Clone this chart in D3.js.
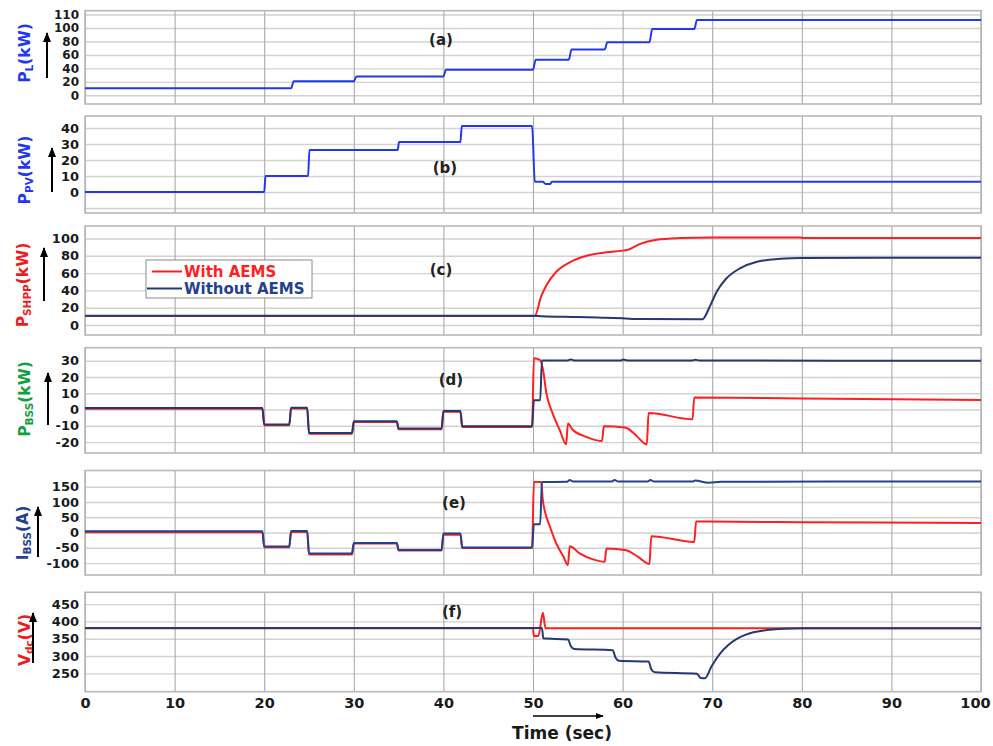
<!DOCTYPE html>
<html><head><meta charset="utf-8">
<script src="https://cdn.jsdelivr.net/npm/d3@7"></script>
<style>
body{margin:0;background:#fff}
svg text{font-family:"DejaVu Sans",Verdana,sans-serif;font-weight:bold}
</style>
</head><body>
<svg id="chart" width="993" height="746"></svg>
<script>
// ---------------- DATA ----------------
const timeTicks = [0,10,20,30,40,50,60,70,80,90,100];
const timeTickLabels = ["0","10","20","30","40","50","60","70","80","90","100"];

// (a) load power, kW
const pLoad = [[0,10.4],[23,10.4],[23.3,21],[30,21],[30.3,28],[40,28],[40.3,38],[50,38],[50.3,53],[54,53],[54.3,68],[58,68],[58.3,79],[63,79],[63.3,98.5],[68,98.5],[68.3,112],[100,112]];
const ticksA = [0,20,40,60,80,100,120];
const labelsA = ["0","20","40","60","80","100","110"];

// (b) PV power, kW
const pPV = [[0,0],[20,0],[20.15,10],[24.9,10],[25.05,26.3],[34.9,26.3],[35.05,31.3],[41.9,31.3],[42.05,41.3],[49.9,41.3],[50.2,6.4],[51.1,6.4],[51.4,5],[51.9,5],[52.1,6.4],[100,6.4]];
const ticksB = [-10,0,10,20,30,40];
const labelsB = ["","0","10","20","30","40"];

// (c) SHPP power, kW
const shppWith = [[0,10.5],[50.2,10.5],[50.9,32.7],[51.5,46],[52.6,61.6],[54.1,72.5],[56,80],[58.2,84],[60,86],[60.6,87],[61.9,93.6],[63.8,98.6],[66.4,100.5],[70,101.3],[79.8,101.3],[80.2,100.5],[100,100.5]];
const shppWithout = [[0,10.7],[50,10.7],[51,10.2],[55,9.2],[57.7,8.4],[60,7.7],[62,6.8],[68.9,6.6],[69.8,23],[70.5,38.5],[71.6,54],[73.1,65.5],[75,73.2],[77.6,76.6],[80,77.5],[100,77.8]];
const ticksC = [0,20,40,60,80,100];
const labelsC = ["0","20","40","60","80","100"];

// (d) BSS power, kW
const bssWith = [[0,0.5],[19.8,0.5],[20,-9.6],[22.8,-9.6],[23,0.7],[24.8,0.7],[25,-14.8],[29.8,-14.8],[30,-7.6],[34.8,-7.6],[35,-12.1],[39.8,-12.1],[40,-1.3],[41.9,-1.3],[42.1,-10.7],[49.9,-10.7],[50.1,31.5],[50.8,30.4],[51.1,25],[51.5,9.9],[52.2,-2.5],[53,-12.8],[53.7,-21.4],[53.9,-8.6],[54.4,-12.3],[56,-16.9],[57.7,-19.4],[57.9,-10.3],[60.2,-11.1],[60.5,-11.5],[61.5,-15.9],[62.7,-21.4],[62.9,-2.1],[67.8,-6],[68,7.4],[80,6.8],[100,5.9]];
const bssWithout = [[0,0.9],[19.8,0.9],[20,-9.2],[22.8,-9.2],[23,1.1],[24.8,1.1],[25,-14.4],[29.8,-14.4],[30,-7.2],[34.8,-7.2],[35,-11.7],[39.8,-11.7],[40,-0.9],[41.9,-0.9],[42.1,-10.3],[49.9,-10.3],[50.1,5.7],[50.8,5.7],[51,30.2],[53.9,30.2],[54.2,30.8],[54.6,30.2],[59.8,30.2],[60.1,30.7],[60.5,30.2],[67.8,30.2],[68.1,30.6],[68.6,30.1],[100,30]];
const ticksD = [-20,-10,0,10,20,30];
const labelsD = ["-20","-10","0","10","20","30"];

// (e) BSS current, A
const iBssWith = [[0,1],[19.8,1],[20,-48],[22.8,-48],[23,2],[24.8,2],[25,-72],[29.8,-72],[30,-36],[34.8,-36],[35,-59],[39.8,-59],[40,-7],[41.9,-7],[42.1,-51],[49.9,-51],[50.1,165],[50.9,165],[51.1,105],[51.3,72.6],[51.9,18],[52.6,-36],[53.4,-79],[53.9,-106],[54.1,-45],[55.2,-68],[56.7,-88],[58,-96],[58.2,-52],[60.4,-58],[61.7,-79],[63,-103],[63.2,-12],[68,-31],[68.2,36],[80,34],[100,31]];
const iBssWithout = [[0,4],[19.8,4],[20,-46],[22.8,-46],[23,5],[24.8,5],[25,-69],[29.8,-69],[30,-34],[34.8,-34],[35,-57],[39.8,-57],[40,-3],[41.9,-3],[42.1,-49],[49.9,-49],[50.1,27],[50.8,27],[51,165],[53.8,166],[54.1,172],[54.5,167],[58.8,167],[59.1,172],[59.5,167],[62.8,167],[63.1,172],[63.5,167],[67.8,167],[68.1,170],[69.6,163],[71,166],[100,167]];
const ticksE = [-100,-50,0,50,100,150];
const labelsE = ["-100","-50","0","50","100","150"];

// (f) DC-link voltage, V
const vdcWith = [[0,380],[50,380],[50.1,358],[50.6,358],[51.1,425],[51.4,380],[100,380]];
const vdcWithout = [[0,381],[51,381],[51.15,351],[53.9,348],[54.2,330],[54.6,320],[58.9,317],[59.2,296],[59.6,286.5],[62.9,284],[63.2,262],[63.6,253],[68.3,249],[68.7,236.6],[69.2,236],[69.9,269],[70.9,308],[71.8,332],[72.7,349],[73.7,361],[74.6,368.5],[76.1,375],[77.4,378],[80,380],[100,380]];
const ticksF = [250,300,350,400,450];
const labelsF = ["250","300","350","400","450"];

const legendLabels = ["With AEMS","Without AEMS"];

// ---------------- STYLE / LAYOUT ----------------
const BLUE = "#2238ee", RED = "#ff1f1f", NAVY = "#263872", GREEN = "#12a03c", LNAVY = "#25408f", LRED = "#ee1c1c";
const X0 = 85, X1 = 981;

const panels = [
  {top:10.7, bottom:104, domain:[-12.9,125.7], ticks:ticksA, labels:labelsA, fs:12,
   series:[{d:pLoad,c:BLUE}], letter:"(a)", lx:441, ly:40,
   ylab:{parts:[["P",""],["L","sub"],["(kW)",""]], c:BLUE, x:25, y:53}, arrow:{x:47,y1:78,y2:33}},
  {top:116, bottom:213, domain:[-13.1,47.5], ticks:ticksB, labels:labelsB, fs:13,
   series:[{d:pPV,c:BLUE}], letter:"(b)", lx:445, ly:168,
   ylab:{parts:[["P",""],["PV","sub"],["(kW)",""]], c:BLUE, x:25, y:170}, arrow:{x:52,y1:192,y2:148}},
  {top:226, bottom:335, domain:[-11.6,114.5], ticks:ticksC, labels:labelsC, fs:13,
   series:[{d:shppWith,c:RED},{d:shppWithout,c:NAVY}], letter:"(c)", lx:441, ly:270,
   ylab:{parts:[["P",""],["SHPP","sub"],["(kW)",""]], c:LRED, x:23, y:285}, arrow:{x:44,y1:301,y2:248}},
  {top:347.7, bottom:453, domain:[-26.7,38], ticks:ticksD, labels:labelsD, fs:13,
   series:[{d:bssWith,c:RED},{d:bssWithout,c:NAVY}], letter:"(d)", lx:451, ly:380,
   ylab:{parts:[["P",""],["BSS","sub"],["(kW)",""]], c:GREEN, x:25, y:399}, arrow:{x:48,y1:425,y2:373}},
  {top:470.5, bottom:575, domain:[-139,203], ticks:ticksE, labels:labelsE, fs:13,
   series:[{d:iBssWith,c:RED},{d:iBssWithout,c:LNAVY}], letter:"(e)", lx:454, ly:503,
   ylab:{parts:[["I",""],["BSS","sub"],["(A)",""]], c:LNAVY, x:23, y:533}, arrow:{x:38,y1:557,y2:507}},
  {top:592.3, bottom:691.7, domain:[197,484], ticks:ticksF, labels:labelsF, fs:13,
   series:[{d:vdcWith,c:RED},{d:vdcWithout,c:NAVY}], letter:"(f)", lx:452, ly:612,
   ylab:{parts:[["V",""],["dc","sub"],["(V)",""]], c:LRED, x:25, y:640}, arrow:{x:33,y1:663,y2:613}}
];

const svg = d3.select("#chart");
const defs = svg.append("defs");
defs.append("marker").attr("id","ah").attr("viewBox","0 0 10 10").attr("refX",9).attr("refY",5)
  .attr("markerWidth",5).attr("markerHeight",5).attr("orient","auto")
  .append("path").attr("d","M0,1 L10,5 L0,9 Z").attr("fill","#000");

const x = d3.scaleLinear().domain([0,100]).range([X0,X1]);

panels.forEach((p,pi) => {
  const y = d3.scaleLinear().domain(p.domain).range([p.bottom,p.top]);
  const g = svg.append("g");
  const h = p.bottom - p.top;

  // horizontal grid
  g.append("g").attr("transform",`translate(${X0},0)`)
    .call(d3.axisLeft(y).tickValues(p.ticks).tickSize(-(X1-X0)).tickFormat(""))
    .call(a => { a.select(".domain").remove(); a.selectAll("line").attr("stroke","#d2d2d2").attr("stroke-width",1.4); });
  // vertical grid
  g.append("g").attr("transform",`translate(0,${p.bottom})`)
    .call(d3.axisBottom(x).tickValues(timeTicks).tickSize(-h).tickFormat(""))
    .call(a => { a.select(".domain").remove(); a.selectAll("line").attr("stroke","#a9a9a9").attr("stroke-width",1.1); });
  // frame
  g.append("rect").attr("x",X0).attr("y",p.top).attr("width",X1-X0).attr("height",h)
    .attr("fill","none").attr("stroke","#b8b8b8").attr("stroke-width",1.6);

  // y tick labels
  g.append("g").attr("transform",`translate(79,0)`)
    .call(d3.axisLeft(y).tickValues(p.ticks).tickSize(0).tickPadding(0).tickFormat((d,i)=>p.labels[i]))
    .call(a => { a.select(".domain").remove();
      a.selectAll("text").attr("x",0).attr("font-size",p.fs).attr("fill","#1a1a1a")
        .style("font-family",'"DejaVu Sans",Verdana,sans-serif').style("font-weight","bold"); });

  // clip
  const cid = "clip"+pi;
  defs.append("clipPath").attr("id",cid).append("rect")
    .attr("x",X0).attr("y",p.top).attr("width",X1-X0).attr("height",h);

  const line = d3.line().x(d=>x(d[0])).y(d=>y(d[1])).curve(d3.curveMonotoneX);
  p.series.forEach(s => {
    g.append("path").attr("d",line(s.d)).attr("fill","none").attr("stroke",s.c)
      .attr("stroke-width",2).attr("stroke-linejoin","round").attr("clip-path",`url(#${cid})`);
  });

  // panel letter
  g.append("text").attr("x",p.lx).attr("y",p.ly).attr("text-anchor","middle")
    .attr("dominant-baseline","central").attr("font-size",15).attr("fill","#222").text(p.letter);

  // y label
  const t = g.append("text").attr("transform",`translate(${p.ylab.x},${p.ylab.y}) rotate(-90)`)
    .attr("text-anchor","middle").attr("dominant-baseline","central").attr("fill",p.ylab.c).attr("font-size",15.5);
  p.ylab.parts.forEach(([s,k]) => {
    const ts = t.append("tspan").text(s);
    if (k==="sub") ts.attr("font-size",10.5).attr("dy",4);
    else if (s.startsWith("(")) ts.attr("dy",-4);
  });
  // arrow
  g.append("line").attr("x1",p.arrow.x).attr("x2",p.arrow.x).attr("y1",p.arrow.y1).attr("y2",p.arrow.y2)
    .attr("stroke","#000").attr("stroke-width",2).attr("marker-end","url(#ah)");
});

// x tick labels
svg.append("g").attr("transform",`translate(0,692)`)
  .call(d3.axisBottom(x).tickValues(timeTicks).tickSize(0).tickPadding(6).tickFormat((d,i)=>timeTickLabels[i]))
  .call(a => { a.select(".domain").remove();
    a.selectAll("text").attr("font-size",14.5).attr("fill","#1a1a1a")
      .attr("dx",(d,i)=> i===timeTicks.length-1 ? -6 : 0)
      .style("font-family",'"DejaVu Sans",Verdana,sans-serif').style("font-weight","bold"); });

// time label + arrow
svg.append("line").attr("x1",533).attr("x2",603).attr("y1",716).attr("y2",716)
  .attr("stroke","#000").attr("stroke-width",1.6).attr("marker-end","url(#ah)");
svg.append("text").attr("x",562).attr("y",733).attr("text-anchor","middle").attr("dominant-baseline","central")
  .attr("font-size",17).attr("fill","#1a1a1a").text("Time (sec)");

// legend
const lg = svg.append("g");
lg.append("rect").attr("x",146).attr("y",260).attr("width",166).attr("height",38)
  .attr("fill","#fff").attr("stroke","#8a8a8a").attr("stroke-width",1);
[[RED,152,271.5],[NAVY,147,288.5]].forEach(([c,x1,yy],i) => {
  lg.append("line").attr("x1",x1).attr("x2",182).attr("y1",yy).attr("y2",yy).attr("stroke",c).attr("stroke-width",2);
  lg.append("text").attr("x",184).attr("y",yy).attr("dominant-baseline","central").attr("font-size",15)
    .attr("fill", i===0 ? RED : LNAVY).text(legendLabels[i]);
});
</script>
</body></html>
